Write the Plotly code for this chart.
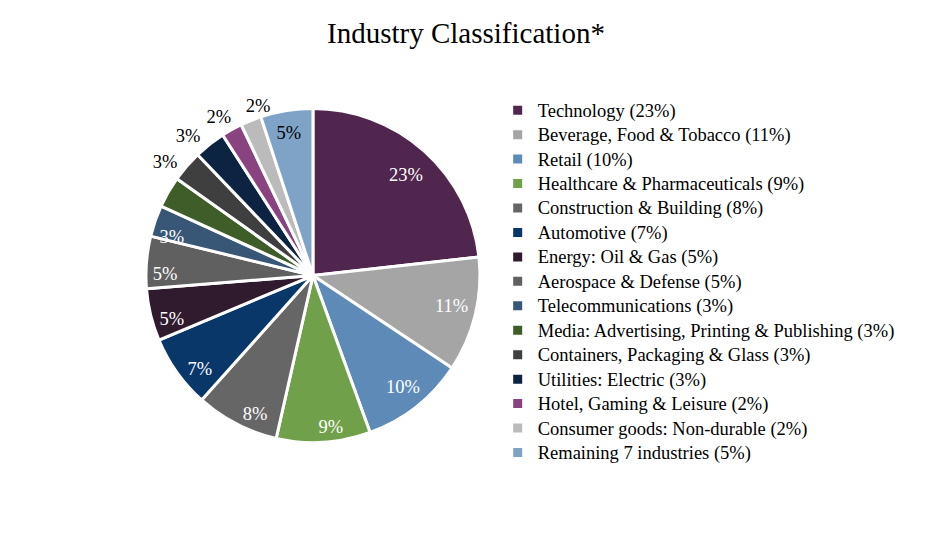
import plotly.graph_objects as go

industries = [
    "Technology", "Beverage, Food & Tobacco", "Retail", "Healthcare & Pharmaceuticals",
    "Construction & Building", "Automotive", "Energy: Oil & Gas", "Aerospace & Defense",
    "Telecommunications", "Media: Advertising, Printing & Publishing",
    "Containers, Packaging & Glass", "Utilities: Electric", "Hotel, Gaming & Leisure",
    "Consumer goods: Non-durable", "Remaining 7 industries",
]
shares = [23, 11, 10, 9, 8, 7, 5, 5, 3, 3, 3, 3, 2, 2, 5]
colors = ["#50264E", "#A5A5A5", "#5E8AB7", "#70A04A", "#666666", "#0A376A", "#301A2D",
          "#606060", "#385676", "#3E5D29", "#3F3F3F", "#0C2341", "#884380", "#BBBBBB", "#7FA3C7"]

# label styling per slice index: colour, radial placement (fraction of radius), angular nudge (deg)
label_style = {
    0: ("white", 0.706, -4.8), 1: ("white", 0.723, 0.7), 2: ("white", 0.747, 5.2),
    3: ("white", 0.847, 3.4), 4: ("white", 0.812, -9.9), 5: ("white", 0.782, -7.4),
    6: ("white", 0.783, -5.3), 7: ("white", 0.782, -3.9), 8: ("white", 0.774, -2.2),
    14: ("black", 0.795, 6.2),
    10: ("black", 1.02, -1.0), 11: ("black", 1.027, -0.7), 12: ("black", 1.012, 2.1),
    13: ("black", 0.984, 8.6),
}

SERIF = "Liberation Serif"
CX, CY, R = 0.3358, 0.4963, 167   # pie centre (paper fractions) and radius (px)
W, H = 932, 547


def domain(frac):
    rx = frac * R / W
    ry = frac * R / H
    return dict(x=[CX - rx, CX + rx], y=[CY - ry, CY + ry])


legend_names = [f'<span style="font-size:18.5px">{n} ({v}%)</span>' for n, v in zip(industries, shares)]

fig = go.Figure(go.Pie(
    labels=legend_names,
    values=shares,
    textinfo="none",
    marker=dict(colors=colors, line=dict(color="white", width=3)),
    sort=False,
    direction="clockwise",
    rotation=0,
    domain=domain(1.0),
    hoverinfo="label",
))

n = len(shares)
for i, (col, frac, nudge) in label_style.items():
    fig.add_trace(go.Pie(
        labels=legend_names,
        values=shares,
        text=[f"{shares[i]}%" if j == i else "" for j in range(n)],
        textinfo="text",
        textposition=["outside" if j == i else "none" for j in range(n)],
        outsidetextfont=dict(color=col, size=18.5, family=SERIF),
        marker=dict(colors=["rgba(0,0,0,0)"] * n, line=dict(width=0)),
        sort=False,
        direction="clockwise",
        rotation=nudge,
        domain=domain(frac),
        showlegend=False,
        hoverinfo="skip",
    ))

fig.update_layout(
    width=W, height=H,
    margin=dict(l=0, r=0, t=0, b=0),
    paper_bgcolor="white",
    font=dict(family=SERIF, color="black"),
    title=dict(text="Industry Classification*", x=0.5, xanchor="center", y=0.94, yanchor="middle",
               font=dict(size=29, family=SERIF, color="black")),
    legend=dict(x=0.534, y=0.830, xanchor="left", yanchor="top",
                font=dict(size=16.5, family=SERIF, color="black"),
                itemwidth=30, tracegroupgap=0),
    showlegend=True,
)

fig.write_html("out.html", config={"displayModeBar": False},
               post_script="document.body.style.margin='0';")
